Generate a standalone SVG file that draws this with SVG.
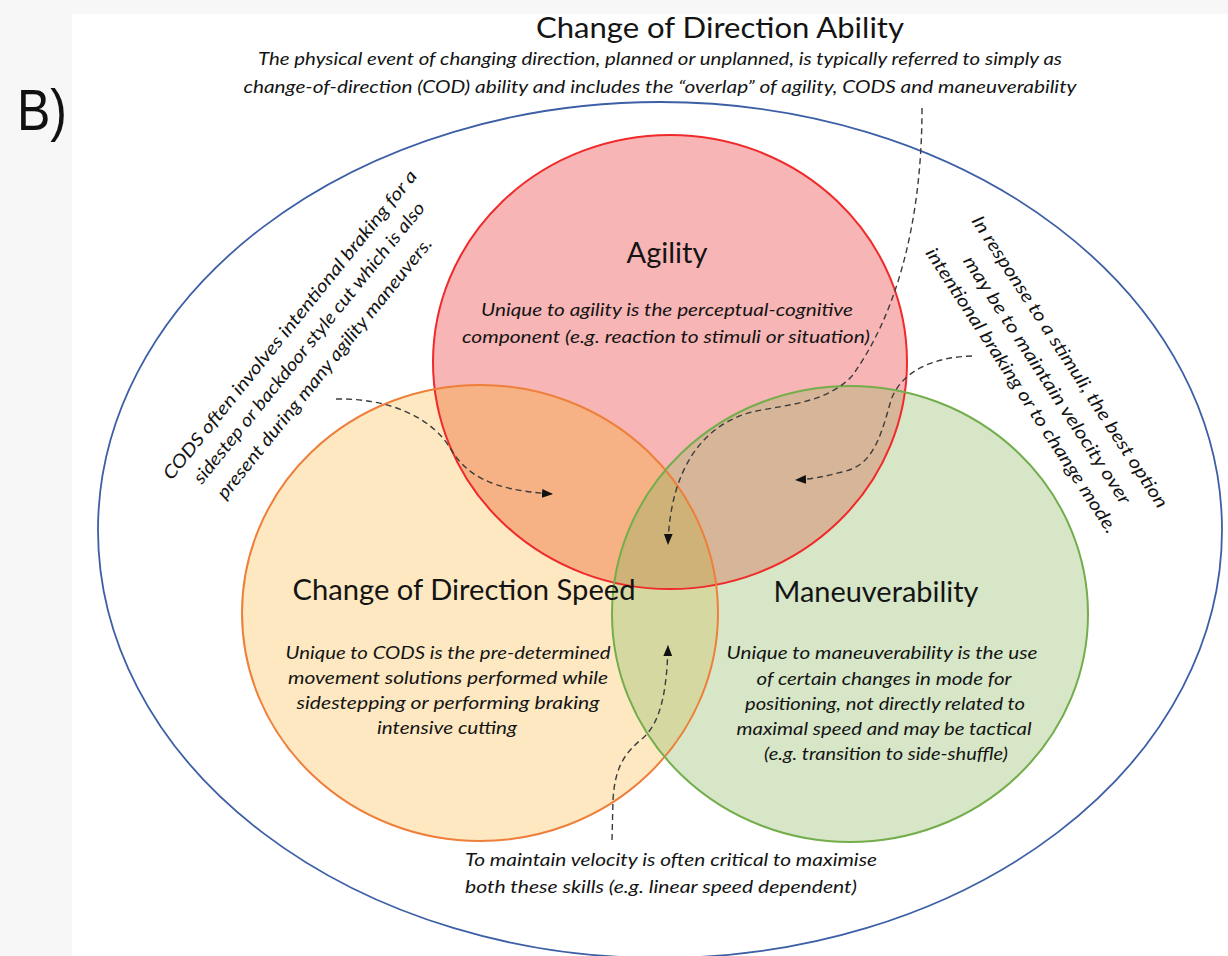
<svg xmlns="http://www.w3.org/2000/svg" width="1228" height="956" viewBox="0 0 1228 956">
  <defs>
    <style>
      .ttl { font-family: Lato, "Liberation Sans", sans-serif; font-size: 28px; fill: #141414; }
      .txt { font-family: Lato, "Liberation Sans", sans-serif; font-size: 18px; font-style: italic; fill: #141414; }
      .mid { text-anchor: middle; }
      .conn { fill: none; stroke: #3c3c3c; stroke-width: 1.4; stroke-dasharray: 6 4; }
      .edge { fill: none; stroke-width: 2; }
    </style>
    <clipPath id="clipAgility"><ellipse cx="670" cy="362" rx="237" ry="227"/></clipPath>
    <clipPath id="clipCods"><ellipse cx="480" cy="613" rx="238" ry="228"/></clipPath>
    <marker id="arrow" viewBox="0 0 10 10" refX="10" refY="5" markerWidth="11" markerHeight="11" markerUnits="userSpaceOnUse" orient="auto">
      <path d="M0,1 L10,5 L0,9 z" fill="#111"/>
    </marker>
  </defs>

  <!-- page -->
  <rect x="0" y="0" width="1228" height="956" fill="#f7f7f7"/>
  <rect x="72" y="14" width="1156" height="942" fill="#ffffff"/>
  <text x="17" y="130" font-family="'Liberation Sans', Arial, sans-serif" font-size="57" fill="#111" textLength="50" lengthAdjust="spacingAndGlyphs">B)</text>

  <!-- outer set: change of direction ability -->
  <g id="cod-ability">
    <ellipse cx="660" cy="530" rx="562" ry="428" fill="none" stroke="#3d5fa6" stroke-width="1.8"/>
    <text class="ttl mid" x="720" y="38" textLength="368" lengthAdjust="spacingAndGlyphs">Change of Direction Ability</text>
    <text class="txt mid" x="660" y="65" textLength="804" lengthAdjust="spacingAndGlyphs">The physical event of changing direction, planned or unplanned, is typically referred to simply as</text>
    <text class="txt mid" x="660" y="93" textLength="833" lengthAdjust="spacingAndGlyphs">change-of-direction (COD) ability and includes the “overlap” of agility, CODS and maneuverability</text>
  </g>

  <!-- set fills -->
  <g id="cods">
    <ellipse cx="480" cy="613" rx="238" ry="228" fill="#fde8c1"/>
  </g>
  <g id="maneuverability">
    <ellipse cx="850" cy="614" rx="238" ry="228" fill="#d6e6c7"/>
  </g>
  <g id="agility">
    <ellipse cx="670" cy="362" rx="237" ry="227" fill="#f8b5b5"/>
  </g>

  <!-- overlap regions -->
  <g id="overlaps">
    <ellipse cx="480" cy="613" rx="238" ry="228" fill="#f6b185" clip-path="url(#clipAgility)"/>
    <ellipse cx="850" cy="614" rx="238" ry="228" fill="#d7b598" clip-path="url(#clipAgility)"/>
    <ellipse cx="850" cy="614" rx="238" ry="228" fill="#d6d8a2" clip-path="url(#clipCods)"/>
    <g clip-path="url(#clipAgility)">
      <ellipse cx="850" cy="614" rx="238" ry="228" fill="#cfb278" clip-path="url(#clipCods)"/>
    </g>
  </g>

  <!-- set outlines -->
  <g id="outlines">
    <ellipse class="edge" cx="670" cy="362" rx="237" ry="227" stroke="#f02a2a"/>
    <ellipse class="edge" cx="480" cy="613" rx="238" ry="228" stroke="#ee7f3a"/>
    <ellipse class="edge" cx="850" cy="614" rx="238" ry="228" stroke="#73ad4c"/>
  </g>

  <!-- set labels -->
  <g id="agility-label">
    <text class="ttl mid" x="667" y="263" textLength="81" lengthAdjust="spacingAndGlyphs">Agility</text>
    <text class="txt mid" x="667" y="316" textLength="372" lengthAdjust="spacingAndGlyphs">Unique to agility is the perceptual-cognitive</text>
    <text class="txt mid" x="666" y="343" textLength="408" lengthAdjust="spacingAndGlyphs">component (e.g. reaction to stimuli or situation)</text>
  </g>
  <g id="cods-label">
    <text class="ttl mid" x="464" y="600" textLength="343" lengthAdjust="spacingAndGlyphs">Change of Direction Speed</text>
    <text class="txt mid" x="448" y="659" textLength="325" lengthAdjust="spacingAndGlyphs">Unique to CODS is the pre-determined</text>
    <text class="txt mid" x="448" y="684" textLength="320" lengthAdjust="spacingAndGlyphs">movement solutions performed while</text>
    <text class="txt mid" x="448" y="709" textLength="303" lengthAdjust="spacingAndGlyphs">sidestepping or performing braking</text>
    <text class="txt mid" x="447" y="734" textLength="140" lengthAdjust="spacingAndGlyphs">intensive cutting</text>
  </g>
  <g id="maneuverability-label">
    <text class="ttl mid" x="876" y="602" textLength="205" lengthAdjust="spacingAndGlyphs">Maneuverability</text>
    <text class="txt mid" x="882" y="659" textLength="311" lengthAdjust="spacingAndGlyphs">Unique to maneuverability is the use</text>
    <text class="txt mid" x="884" y="685" textLength="255" lengthAdjust="spacingAndGlyphs">of certain changes in mode for</text>
    <text class="txt mid" x="885" y="710" textLength="280" lengthAdjust="spacingAndGlyphs">positioning, not directly related to</text>
    <text class="txt mid" x="884" y="735" textLength="295" lengthAdjust="spacingAndGlyphs">maximal speed and may be tactical</text>
    <text class="txt mid" x="886" y="760" textLength="244" lengthAdjust="spacingAndGlyphs">(e.g. transition to side-shuffle)</text>
  </g>

  <!-- annotations -->
  <g id="note-braking" transform="rotate(-51)">
    <text class="txt mid" x="-70" y="436" textLength="392" lengthAdjust="spacingAndGlyphs">CODS  often involves intentional braking for a</text>
    <text class="txt mid" x="-72" y="462" textLength="356" lengthAdjust="spacingAndGlyphs">sidestep or backdoor style cut which is also</text>
    <text class="txt mid" x="-82" y="490" textLength="330" lengthAdjust="spacingAndGlyphs">present during many agility maneuvers.</text>
  </g>
  <g id="note-stimuli" transform="rotate(57)">
    <text class="txt mid" x="886" y="-694" textLength="344" lengthAdjust="spacingAndGlyphs">In response to a stimuli, the best option</text>
    <text class="txt mid" x="889" y="-665" textLength="292" lengthAdjust="spacingAndGlyphs">may be to maintain velocity over</text>
    <text class="txt mid" x="884" y="-638" textLength="336" lengthAdjust="spacingAndGlyphs">intentional braking or to change mode.</text>
  </g>
  <g id="note-velocity">
    <text class="txt" x="465" y="866" textLength="412" lengthAdjust="spacingAndGlyphs">To maintain velocity is often critical to maximise</text>
    <text class="txt" x="465" y="893" textLength="392" lengthAdjust="spacingAndGlyphs">both these skills (e.g. linear speed dependent)</text>
  </g>

  <!-- connectors -->
  <g id="connectors">
    <path class="conn" d="M336,399 C390,398 432,418 450,448 C466,474 488,490 553,494" marker-end="url(#arrow)"/>
    <path class="conn" d="M922,108 C922,228 894,318 852,376 C826,404 782,405 752,412 C702,425 670,470 668,545" marker-end="url(#arrow)"/>
    <path class="conn" d="M972,356 C935,357 902,370 891,400 C880,440 872,466 842,472 C826,476 815,479 795,480" marker-end="url(#arrow)"/>
    <path class="conn" d="M612,840 L613,800 C615,765 626,752 643,738 C661,722 667,690 668,645" marker-end="url(#arrow)"/>
  </g>
</svg>
